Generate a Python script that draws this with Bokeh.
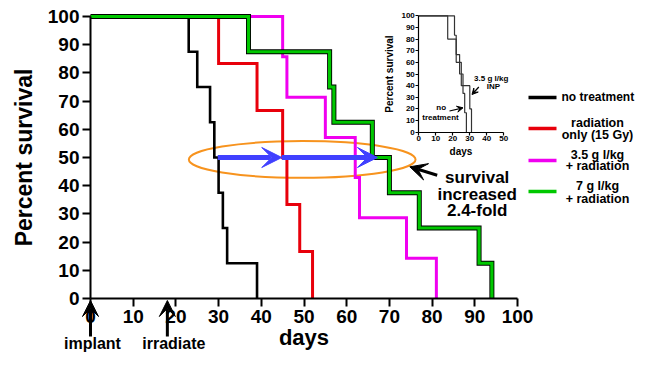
from bokeh.plotting import figure
from bokeh.models import Range1d, LinearAxis, FixedTicker, Label, Arrow, VeeHead
from bokeh.embed import file_html
from bokeh.resources import INLINE

# ---------------- data ----------------
no_treat_days = [23, 25, 28, 29, 30, 31, 32, 39]
no_treat_surv = [87.5, 75, 62.5, 50, 37.5, 25, 12.5, 0]
rad_days = [30, 39, 45, 46, 49, 52]
rad_surv = [83.3, 66.7, 50, 33.3, 16.7, 0]
inp35_days = [45, 46, 55, 62, 63, 74, 81]
inp35_surv = [85.7, 71.4, 57.1, 42.9, 28.6, 14.3, 0]
inp7_days = [37, 56, 57, 66, 70, 77, 91, 94]
inp7_surv = [87.5, 75, 62.5, 50, 37.5, 25, 12.5, 0]

inset_nt_days = [21, 22, 24, 26, 27, 28]
inset_nt_surv = [83.3, 66.7, 50, 33.3, 16.7, 0]
inset_inp_days = [17, 22, 25, 30, 31]
inset_inp_surv = [80, 60, 40, 20, 0]

main_x_ticks = [0, 10, 20, 30, 40, 50, 60, 70, 80, 90, 100]
main_y_ticks = [0, 10, 20, 30, 40, 50, 60, 70, 80, 90, 100]
inset_x_ticks = [0, 10, 20, 30, 40, 50]
inset_y_ticks = [0, 10, 20, 30, 40, 50, 60, 70, 80, 90, 100]

median_days = [29.8, 44.8, 67.2]     # blue arrow: medians at 50 %
median_level = 50
event_days = [0, 18]
event_labels = ["implant", "irradiate"]

series_colors = ["#000000", "#e8000b", "#f000f0", "#00c800"]
legend_labels = [["no treatment"], ["radiation", "only (15 Gy)"],
                 ["3.5 g l/kg", "+ radiation"], ["7 g l/kg", "+ radiation"]]

FONT = "Liberation Sans"
W, H = 635, 352

# canvas-pixel helpers -> data units (used only to place annotations)
X0, XPX = 90.0, 4.27          # day 0 at canvas x, px per day
Y100, YPX = 16.0, 2.82        # 100 % at canvas y, px per percent

def mx(cx):
    return (cx - X0) / XPX

def my(cy):
    return 100 - (cy - Y100) / YPX

def ix(cx):
    return (cx - 418.3) / 1.7

def iy(cy):
    return (131.7 - cy) / 1.164

p = figure(width=W, height=H, x_range=Range1d(mx(0), mx(W)),
           y_range=Range1d(my(H), my(0)),
           x_axis_type=None, y_axis_type=None, toolbar_location=None,
           output_backend="svg", min_border=0, outline_line_color=None)
p.extra_x_ranges = {"ix": Range1d(ix(0), ix(W))}
p.extra_y_ranges = {"iy": Range1d(iy(H), iy(0))}

def style_axis(ax, lw, tick, lab_fs, title_fs, lab_standoff, title_standoff):
    ax.axis_line_width = lw
    ax.axis_line_color = "black"
    ax.major_tick_line_width = lw
    ax.major_tick_out = tick
    ax.major_tick_in = 0
    ax.minor_tick_out = 0
    ax.minor_tick_in = 0
    ax.major_label_text_font = FONT
    ax.major_label_text_font_style = "bold"
    ax.major_label_text_font_size = lab_fs
    ax.major_label_text_color = "black"
    ax.major_label_standoff = lab_standoff
    ax.axis_label_text_font = FONT
    ax.axis_label_text_font_style = "bold"
    ax.axis_label_text_font_size = title_fs
    ax.axis_label_text_color = "black"
    ax.axis_label_standoff = title_standoff

# main axes
xax = LinearAxis(fixed_location=0, bounds=(0, 100), ticker=FixedTicker(ticks=main_x_ticks),
                 axis_label="days")
style_axis(xax, 2, 8, "19px", "22px", 3, -1)
p.add_layout(xax, "below")
yax = LinearAxis(fixed_location=0, bounds=(0, 100), ticker=FixedTicker(ticks=main_y_ticks),
                 axis_label="Percent survival")
style_axis(yax, 2, 8, "19px", "23px", 3, 8)
p.add_layout(yax, "left")

# inset axes
ixax = LinearAxis(x_range_name="ix", y_range_name="iy", fixed_location=0, bounds=(0, 50),
                  ticker=FixedTicker(ticks=inset_x_ticks), axis_label="days")
style_axis(ixax, 1.2, 3, "8px", "10px", 1, 1)
p.add_layout(ixax, "below")
iyax = LinearAxis(x_range_name="ix", y_range_name="iy", fixed_location=0, bounds=(0, 100),
                  ticker=FixedTicker(ticks=inset_y_ticks), axis_label="Percent survival")
style_axis(iyax, 1.2, 3, "8px", "10px", 1, 3)
p.add_layout(iyax, "left")

# highlight ellipse
p.ellipse(x=[mx(301.7)], y=[49.3], width=226.7 / XPX, height=36.7 / YPX,
          fill_color=None, line_color="#f7931e", line_width=2)

# main survival curves
def steps(days, surv):
    return [0] + list(days), [100] + list(surv)

x, y = steps(no_treat_days, no_treat_surv)
p.step(x, y, mode="after", line_color=series_colors[0], line_width=2.6, line_join="miter")
x, y = steps(rad_days, rad_surv)
p.step(x, y, mode="after", line_color=series_colors[1], line_width=3, line_join="miter")
x, y = steps(inp35_days, inp35_surv)
p.step(x, y, mode="after", line_color=series_colors[2], line_width=3, line_join="miter")
x, y = steps(inp7_days, inp7_surv)
p.step(x, y, mode="after", line_color="black", line_width=5, line_join="miter")
p.step(x, y, mode="after", line_color=series_colors[3], line_width=3.2, line_join="miter")

# inset curves
x, y = steps(inset_nt_days, inset_nt_surv)
p.step(x, y, mode="after", x_range_name="ix", y_range_name="iy", line_color="#333333",
       line_width=1.2)
x, y = steps(inset_inp_days, inset_inp_surv)
p.step(x, y, mode="after", x_range_name="ix", y_range_name="iy", line_color="#333333",
       line_width=1.2)

# blue median arrows
blue = "#4040ff"
for a, b in zip(median_days[:-1], median_days[1:]):
    p.add_layout(Arrow(x_start=a, y_start=median_level, x_end=b, y_end=median_level,
                       line_color=blue, line_width=5,
                       end=VeeHead(size=20, fill_color=blue, line_color=blue, line_width=1)))

# black pointer arrow
p.add_layout(Arrow(x_start=mx(436.7), y_start=my(174.7), x_end=mx(409.3), y_end=my(166.3),
                   line_color="black", line_width=3,
                   end=VeeHead(size=17, fill_color="black", line_color="black", line_width=1)))

def label(x, y, text, size, align="center", **kw):
    p.add_layout(Label(x=x, y=y, text=text, text_font=FONT, text_font_style="bold",
                       text_font_size=size, text_align=align, text_baseline="middle",
                       text_color="black", **kw))

for t, yy in zip(["survival", "increased", "2.4-fold"], [176.5, 193.5, 210]):
    label(mx(476.7), my(yy), t, "17px")

# implant / irradiate arrows under the axis
for d in event_days:
    p.add_layout(Arrow(x_start=d, y_start=my(336), x_end=d, y_end=my(300),
                       line_color="black", line_width=3,
                       end=VeeHead(size=16, fill_color="black", line_color="black", line_width=1)))
label(mx(92), my(343), event_labels[0], "16px")
label(mx(173.3), my(343), event_labels[1], "16px")

# legend
leg_line_y = [97, 128, 160, 191]
leg_text_y = [[96.5], [122.3, 134], [154, 165.7], [185.5, 198]]
p.segment(x0=[mx(528)] * 4, x1=[mx(556)] * 4, y0=[my(v) for v in leg_line_y],
          y1=[my(v) for v in leg_line_y], line_color=series_colors, line_width=3.5)
label(mx(561), my(leg_text_y[0][0]), legend_labels[0][0], "12px", align="left")
for lines, ys in zip(legend_labels[1:], leg_text_y[1:]):
    for t, yy in zip(lines, ys):
        label(mx(597), my(yy), t, "12.5px")

# inset annotations
label(mx(490.7), my(78.3), "3.5 g l/kg", "8px")
label(mx(493), my(86), "INP", "8px")
label(mx(440.7), my(107.3), "no", "8px")
label(mx(440), my(116.7), "treatment", "8px")
p.add_layout(Arrow(x_start=mx(478.3), y_start=my(86.5), x_end=mx(471.5), y_end=my(94),
                   line_color="black", line_width=1.2,
                   end=VeeHead(size=6, fill_color="black", line_color="black", line_width=1)))
p.add_layout(Arrow(x_start=mx(449), y_start=my(110.5), x_end=mx(462.5), y_end=my(107.3),
                   line_color="black", line_width=1.2,
                   end=VeeHead(size=6, fill_color="black", line_color="black", line_width=1)))

open("out.html", "w").write(file_html(p, INLINE))
